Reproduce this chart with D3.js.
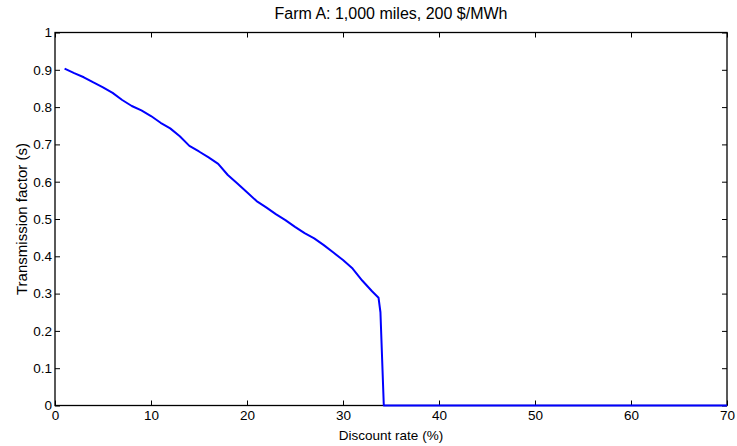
<!DOCTYPE html>
<html>
<head>
<meta charset="utf-8">
<script src="https://cdn.jsdelivr.net/npm/d3@7"></script>
<style>
  html, body { margin: 0; padding: 0; background: #fff; }
  svg { display: block; }
  text { font-family: "Liberation Sans", Arial, sans-serif; fill: #000; }
</style>
</head>
<body>
<svg id="chart" width="737" height="446"></svg>
<script>
// Discount rate (%) and the resulting transmission factor
const discountRate = [1, 2, 3, 4, 5, 6, 7, 8, 9, 10, 11, 12, 13, 14, 15, 16, 17, 18, 19, 20,
  21, 22, 23, 24, 25, 26, 27, 28, 29, 30, 31, 32, 33, 33.7, 33.9, 34.25, 70];
const transmission = [0.903, 0.891, 0.880, 0.866, 0.853, 0.838, 0.819, 0.803, 0.791, 0.776,
  0.758, 0.743, 0.722, 0.696, 0.681, 0.665, 0.648, 0.618, 0.595, 0.572,
  0.548, 0.531, 0.513, 0.497, 0.479, 0.462, 0.448, 0.430, 0.410, 0.390,
  0.367, 0.335, 0.307, 0.289, 0.250, 0, 0];

const xTicks = [0, 10, 20, 30, 40, 50, 60, 70];
const yTicks = [0, 0.1, 0.2, 0.3, 0.4, 0.5, 0.6, 0.7, 0.8, 0.9, 1];

const titleText = "Farm A: 1,000 miles, 200 $/MWh";
const xLabel = "Discount rate (%)";
const yLabel = "Transmission factor (s)";

const svg = d3.select("#chart");
const m = { left: 55, right: 727, top: 32.5, bottom: 405.5 };

const x = d3.scaleLinear().domain([0, 70]).range([m.left, m.right]);
const y = d3.scaleLinear().domain([0, 1]).range([m.bottom, m.top]);

const tickLen = 5;

// Bottom axis with labels, ticks pointing inward
const gx = svg.append("g").attr("transform", `translate(0,${m.bottom})`)
  .call(d3.axisBottom(x).tickValues(xTicks).tickSizeInner(-tickLen).tickSizeOuter(0)
    .tickPadding(5).tickFormat(d3.format("d")));
// Top axis (ticks only)
const gxt = svg.append("g").attr("transform", `translate(0,${m.top})`)
  .call(d3.axisTop(x).tickValues(xTicks).tickSizeInner(-tickLen).tickSizeOuter(0).tickFormat(""));
// Left axis with labels
const gy = svg.append("g").attr("transform", `translate(${m.left},0)`)
  .call(d3.axisLeft(y).tickValues(yTicks).tickSizeInner(-tickLen).tickSizeOuter(0)
    .tickPadding(3).tickFormat(d => d === 0 ? "0" : d === 1 ? "1" : d3.format(".1f")(d)));
// Right axis (ticks only)
const gyr = svg.append("g").attr("transform", `translate(${m.right},0)`)
  .call(d3.axisRight(y).tickValues(yTicks).tickSizeInner(-tickLen).tickSizeOuter(0).tickFormat(""));

[gx, gxt, gy, gyr].forEach(g => {
  g.select(".domain").remove();
  g.selectAll(".tick line").attr("stroke", "#000").attr("stroke-width", 1);
  g.selectAll(".tick text").style("font-size", "13.5px").attr("fill", "#000");
});
gx.selectAll(".tick text").attr("dy", "0.71em");

// Plot box
svg.append("rect")
  .attr("x", m.left).attr("y", m.top)
  .attr("width", m.right - m.left).attr("height", m.bottom - m.top)
  .attr("fill", "none").attr("stroke", "#000").attr("stroke-width", 1.3);

// Curve
const pts = discountRate.map((d, i) => [d, transmission[i]]);
svg.append("path")
  .datum(pts)
  .attr("fill", "none")
  .attr("stroke", "#0000ff")
  .attr("stroke-width", 2)
  .attr("stroke-linejoin", "round")
  .attr("d", d3.line().x(d => x(d[0])).y(d => y(d[1])));

// Title and axis labels
svg.append("text")
  .attr("x", (m.left + m.right) / 2).attr("y", 19)
  .attr("text-anchor", "middle").style("font-size", "16px")
  .text(titleText);

svg.append("text")
  .attr("x", (m.left + m.right) / 2).attr("y", 440)
  .attr("text-anchor", "middle").style("font-size", "13.5px")
  .text(xLabel);

svg.append("text")
  .attr("transform", `translate(27,${(m.top + m.bottom) / 2}) rotate(-90)`)
  .attr("text-anchor", "middle").style("font-size", "15px")
  .text(yLabel);
</script>
</body>
</html>
